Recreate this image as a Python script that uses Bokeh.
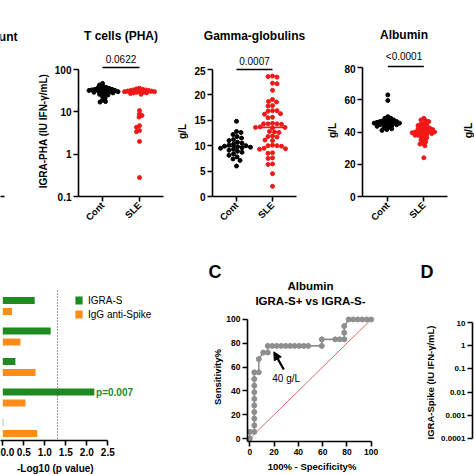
import math
import numpy as np
from bokeh.plotting import figure
from bokeh.layouts import row, column
from bokeh.models import (Range1d, FixedTicker, PrintfTickFormatter, Legend,
                          LegendItem, Arrow, NormalHead)
from bokeh.core.properties import value
from bokeh.embed import file_html
from bokeh.resources import INLINE

# ---------------- data ----------------
groups = ["Cont", "SLE"]

pha_cont = [47, 43, 40, 38, 37, 36, 35, 34, 34, 33, 33, 32, 32, 31, 31, 30, 30,
            29, 29, 28, 27, 26, 25, 23, 21, 19, 17.5, 17]
pha_sle = [36, 35, 34, 33, 33, 32, 32, 31, 31, 30, 30, 30, 29, 29, 28, 28, 27, 26,
           10.7, 9.0, 8.2, 7.5, 4.7, 4.3, 3.6, 3.4, 2.0, 0.28]
pha_p = "0.0622"
pha_ticks = [0.1, 1, 10, 100]

gam_cont = [14.8, 12.8, 12.6, 12.2, 11.8, 11.5, 11.2, 11.0, 10.7, 10.5, 10.3, 10.1,
            10.0, 9.9, 9.8, 9.7, 9.6, 9.5, 9.3, 9.1, 8.9, 8.7, 8.4, 8.1, 7.8, 7.4,
            7.1, 6.0]
gam_sle = [23.7, 23.6, 23.5, 22.3, 22.2, 20.9, 19.1, 18.7, 18.6, 17.9, 17.8, 16.9,
           16.8, 16.9, 16.3, 16.2, 15.6, 15.5, 14.4, 14.3, 14.3, 14.2, 14.3, 13.7,
           13.6, 13.6, 13.5, 12.7, 12.8, 12.6, 11.8, 11.9, 11.7, 11.0, 11.1, 10.0,
           10.1, 9.9, 10.0, 9.4, 9.3, 9.5, 8.5, 8.6, 7.6, 7.5, 6.4, 6.3, 4.5, 2.0]
gam_p = "0.0007"
gam_ticks = [0, 5, 10, 15, 20, 25]

alb_cont = [63, 59.5, 49.5, 48.5, 48.5, 47.5, 47.5, 47, 46.5, 46.5, 46.5, 46, 46,
            45.5, 45.5, 45.5, 45, 45, 44.5, 44.5, 44, 44, 43.5, 43, 42.5, 42, 41.5, 41]
alb_sle = [48.5, 47.5, 47, 46.5, 45.5, 45, 44.5, 44, 43.5, 43, 42.5, 42.5, 42, 41.5,
           41.5, 41, 40.5, 40.5, 40, 40, 40, 39.5, 39.5, 39, 39, 38.5, 38, 38, 37.5,
           37, 36.5, 35.5, 35, 34, 33, 32.5, 31.5, 24]
alb_p = "<0.0001"
alb_ticks = [0, 20, 40, 60, 80]

bar_igra_s = [0.76, 1.14, 0.30, 2.18, 0.01]
bar_igg = [0.22, 0.42, 0.78, 0.54, 0.82]
bar_series = ["IGRA-S", "IgG anti-Spike"]
bar_ticks = [0, 0.5, 1.0, 1.5, 2.0, 2.5]
p_threshold = 0.05

roc_fpr = [0, 0, 3.7, 3.7, 3.7, 3.7, 3.7, 3.7, 3.7, 3.7, 3.7, 3.7, 7.4, 7.4, 11.1,
           14.8, 14.8, 18.5, 22.2, 25.9, 29.6, 33.3, 37.0, 40.7, 44.4, 48.1, 59.3,
           59.3, 70.4, 74.1, 77.8, 77.8, 77.8, 81.5, 85.2, 88.9, 92.6, 96.3, 100]
roc_sens = [0, 5.6, 5.6, 11.1, 16.7, 22.2, 27.8, 33.3, 38.9, 44.4, 50.0, 55.6, 55.6,
            66.7, 72.2, 72.2, 77.8, 77.8, 77.8, 77.8, 77.8, 77.8, 77.8, 77.8, 77.8,
            77.8, 77.8, 83.3, 83.3, 83.3, 83.3, 88.9, 94.4, 100, 100, 100, 100, 100, 100]
roc_ticks = [0, 20, 40, 60, 80, 100]
roc_cutoff = "40 g/L"

spike_ticks = [0.0001, 0.001, 0.01, 0.1, 1, 10]

# ---------------- style ----------------
FONT = "Liberation Sans"
RED = "#f21818"
GREEN = "#1f8a22"
ORANGE = "#ff8c1a"
GRAY = "#8e8e8e"
LW = 1.6


def fs(px):
    return f"{px:.1f}px"


class Lin:
    def __init__(self, p0, v0, p1, v1):
        self.p0, self.v0 = p0, v0
        self.a = (p1 - p0) / (v1 - v0)

    def px(self, v):
        return self.p0 + self.a * (v - self.v0)

    def inv(self, p):
        return self.v0 + (p - self.p0) / self.a


class Log:
    def __init__(self, p0, v0, p1, v1):
        self.l = Lin(p0, math.log10(v0), p1, math.log10(v1))

    def px(self, v):
        return self.l.px(math.log10(v))

    def inv(self, p):
        return 10 ** self.l.inv(p)


IDENT = Lin(0, 0, 1, 1)


def make_fig(box, frame, xm=IDENT, ym=IDENT, xtype="linear", ytype="linear", axes=True):
    bx0, bx1, by0, by1 = (int(round(v)) for v in box)
    fx0, fx1, fy0, fy1 = (int(round(v)) for v in frame)
    kw = dict(width=bx1 - bx0, height=by1 - by0,
              x_range=Range1d(xm.inv(fx0), xm.inv(fx1)),
              y_range=Range1d(ym.inv(fy1), ym.inv(fy0)),
              x_axis_type=xtype, y_axis_type=ytype,
              toolbar_location=None, output_backend="svg", frame_align=False,
              min_border_left=fx0 - bx0, min_border_right=bx1 - fx1,
              min_border_top=fy0 - by0, min_border_bottom=by1 - fy1)
    if not axes:
        kw.update(x_axis_location=None, y_axis_location=None)
    p = figure(**kw)
    p.grid.visible = False
    p.outline_line_color = None
    p.background_fill_color = "white"
    p.border_fill_color = "white"
    return p


def txt(p, x, y, s, size, bold=False, align="center", color="black", angle=0.0):
    p.text(x=[x], y=[y], text=[s], text_font=value(FONT), text_font_size=fs(size),
           text_font_style="bold" if bold else "normal", text_align=align,
           text_baseline="middle", text_color=color, angle=angle)


def style_axis(ax, tick_size, label_size=10, standoff=3):
    ax.axis_line_width = LW
    ax.axis_line_color = "black"
    ax.major_tick_line_width = LW
    ax.major_tick_line_color = "black"
    ax.major_tick_out = 5
    ax.major_tick_in = 0
    ax.minor_tick_line_color = None
    ax.major_label_text_font = FONT
    ax.major_label_text_font_style = "bold"
    ax.major_label_text_font_size = fs(tick_size)
    ax.major_label_text_color = "black"
    ax.major_label_standoff = 2
    ax.axis_label_text_font = FONT
    ax.axis_label_text_font_style = "bold"
    ax.axis_label_text_font_size = fs(label_size)
    ax.axis_label_text_color = "black"
    ax.axis_label_standoff = standoff


def swarm(vals, ymap, d):
    ys = [ymap.px(v) for v in vals]
    order = sorted(range(len(vals)), key=lambda i: ys[i])
    steps = [0.0]
    for k in range(1, 120):
        steps += [k * 0.5, -k * 0.5]
    placed = []
    offs = [0.0] * len(vals)
    for n, i in enumerate(order):
        cands = steps if n % 2 == 0 else [-s for s in steps]
        for c in cands:
            if all((c - px) ** 2 + (ys[i] - py) ** 2 >= d * d for px, py in placed):
                offs[i] = c
                placed.append((c, ys[i]))
                break
    return offs


def top_panel(x0, x1, hb, axis_x, x_end, xm, ym, ytype, ticks, ylabel, title,
              title_y, pval, p_y, bar_px, cont, sle, d):
    head = make_fig((x0, x1, 0, hb), (x0, x1, 0, hb), axes=False)
    cx = (xm.px(1) + xm.px(2)) / 2
    txt(head, cx, title_y, title, 12, bold=True)
    txt(head, cx, p_y, pval, 10)

    p = make_fig((x0, x1, hb, 240), (axis_x, x1, hb, 196), xm, ym, ytype=ytype)
    yax = p.yaxis[0]
    xax = p.xaxis[0]
    style_axis(yax, 10, 10)
    style_axis(xax, 9.5)
    yax.ticker = FixedTicker(ticks=ticks)
    yax.formatter = PrintfTickFormatter(format="%g")
    yax.bounds = (p.y_range.start, ticks[-1])
    yax.axis_label = ylabel
    xax.ticker = FixedTicker(ticks=[1, 2])
    xax.major_label_overrides = {1: groups[0], 2: groups[1]}
    xax.major_label_orientation = math.pi / 4
    xax.bounds = (p.x_range.start, xm.inv(x_end))
    for gi, (vals, col) in enumerate([(cont, "black"), (sle, RED)], start=1):
        offs = swarm(vals, ym, d)
        xs = [gi + o / xm.a for o in offs]
        p.scatter(xs, vals, size=4, color=col, marker="circle")
        med = float(np.median(vals))
        p.segment(x0=[gi - 0.36], x1=[gi + 0.36], y0=[med], y1=[med],
                  line_color=col, line_width=LW)
    yb = ym.inv(bar_px)
    p.segment(x0=[1], x1=[2], y0=[yb], y1=[yb], line_color="black", line_width=LW)
    return head, p


# ---------------- top row ----------------
# partial neighbour panel at the left edge
h0 = make_fig((0, 22, 0, 65), (0, 22, 0, 65), axes=False)
txt(h0, 17, 36, "unt", 12, bold=True, align="right")
p0 = make_fig((0, 22, 65, 240), (0, 22, 65, 196))
p0.yaxis.visible = False
style_axis(p0.xaxis[0], 9.5)
p0.xaxis[0].ticker = FixedTicker(ticks=[])
p0.xaxis[0].bounds = (0, 4)

xmT = Lin(102, 1, 139, 2)
ymT = Log(196, 0.1, 69, 100)
hT, pT = top_panel(22, 172, 65, 78, 163, xmT, ymT, "log", pha_ticks,
                   "IGRA-PHA (IU IFN-γ/mL)", "T cells (PHA)", 35, pha_p, 58, 67,
                   pha_cont, pha_sle, 3.0)

xmG = Lin(236, 1, 272, 2)
ymG = Lin(196, 0, 69, 25)
hG, pG = top_panel(172, 324, 66, 212, 296, xmG, ymG, "linear", gam_ticks, "g/L",
                   "Gamma-globulins", 35, gam_p, 60, 69, gam_cont, gam_sle, 4.4)

xmA = Lin(385, 1, 422, 2)
ymA = Lin(196, 0, 67, 80)
hA, pA = top_panel(324, 474, 64, 359, 446, xmA, ymA, "linear", alb_ticks, "g/L",
                   "Albumin", 34, alb_p, 56, 66, alb_cont, alb_sle, 3.0)
txt(pA, xmA.inv(467), ymA.inv(130), "g/L", 10.5, bold=True, angle=math.pi / 2)

# ---------------- bar chart ----------------
bxm = Lin(2.3, 0, 44.3, 1)
bym = Lin(305.5, 0, 275.0, 1)
fb = make_fig((0, 200, 240, 461), (0, 200, 240, 440), bxm, bym)
fb.yaxis.visible = False
bax = fb.xaxis[0]
style_axis(bax, 10)
bax.ticker = FixedTicker(ticks=bar_ticks)
bax.formatter = PrintfTickFormatter(format="%.1f")
bax.bounds = (fb.x_range.start, bar_ticks[-1])
rows_y = [-i for i in range(len(bar_igra_s))]
rg = fb.hbar(y=[r + 0.18 for r in rows_y], left=0, right=bar_igra_s, height=0.23,
             fill_color=GREEN, line_color=None)
ro = fb.hbar(y=[r - 0.18 for r in rows_y], left=0, right=bar_igg, height=0.23,
             fill_color=ORANGE, line_color=None)
thr = -math.log10(p_threshold)
fb.segment(x0=[thr], x1=[thr], y0=[bym.inv(290)], y1=[fb.y_range.start],
           line_dash="1 2", line_color="#333333", line_width=1)
imax = int(np.argmax(bar_igra_s))
txt(fb, bar_igra_s[imax] + 0.04, rows_y[imax] + 0.18,
    f"p={10 ** -bar_igra_s[imax]:.3f}", 10, bold=True, align="left", color=GREEN)

item_h = 14
vy = 440 - (293 + 2 * item_h)
vx = 74
leg = Legend(items=[LegendItem(label=bar_series[0], renderers=[rg]),
                    LegendItem(label=bar_series[1], renderers=[ro])],
             location=(vx, vy), orientation="vertical", glyph_width=9, glyph_height=10,
             label_height=item_h, label_standoff=5, spacing=0, padding=0, margin=0,
             label_text_font=FONT, label_text_font_size=fs(10), label_text_color="black",
             border_line_color=None, background_fill_alpha=0)
fb.add_layout(leg)

fbf = make_fig((0, 200, 461, 474), (0, 200, 461, 474), axes=False)
txt(fbf, (bxm.px(0) + bxm.px(bar_ticks[-1])) / 2, 467.5, "-Log10 (p value)", 10, bold=True)

# ---------------- ROC ----------------
cxm = Lin(249.3, 0, 370.7, 100)
cym = Lin(439, 0, 319, 100)
hc = make_fig((200, 395, 240, 312), (200, 395, 240, 312), axes=False)
txt(hc, 208, 271, "C", 18, bold=True, align="left")
tcx = (cxm.px(0) + cxm.px(100)) / 2
txt(hc, tcx, 285, "Albumin", 11.5, bold=True)
txt(hc, tcx, 300, "IGRA-S+ vs IGRA-S-", 11.5, bold=True)

fc = make_fig((200, 395, 312, 474), (247, 376, 312, 442), cxm, cym)
for ax, lab in ((fc.xaxis[0], "100% - Specificity%"), (fc.yaxis[0], "Sensitivity%")):
    style_axis(ax, 8.5, 9.5, standoff=3)
    ax.ticker = FixedTicker(ticks=roc_ticks)
    ax.axis_label = lab
fc.yaxis[0].axis_label_standoff = 0
fc.xaxis[0].bounds = (fc.x_range.start, roc_ticks[-1])
fc.yaxis[0].bounds = (fc.y_range.start, roc_ticks[-1])
fc.line([roc_ticks[0], roc_ticks[-1]], [roc_ticks[0], roc_ticks[-1]],
        line_color="#e06868", line_width=1)
fc.line(roc_fpr, roc_sens, line_color=GRAY, line_width=1.6)
fc.scatter(roc_fpr, roc_sens, size=5, color=GRAY, marker="circle")
fc.add_layout(Arrow(end=NormalHead(size=8, fill_color="black", line_color="black"),
                    x_start=28, y_start=58, x_end=19.8, y_end=72.8,
                    line_color="black", line_width=2.2))
txt(fc, 18.5, 50.8, roc_cutoff, 10, align="left")

# ---------------- panel D ----------------
dym = Log(438, 1e-4, 322, 10)
hd = make_fig((395, 474, 240, 320), (395, 474, 240, 320), axes=False)
txt(hd, 420, 271, "D", 18, bold=True, align="left")
fd = make_fig((395, 474, 320, 474), (472, 474, 320, 444), IDENT, dym, ytype="log")
fd.xaxis.visible = False
dax = fd.yaxis[0]
style_axis(dax, 8, 9.5, standoff=2)
dax.ticker = FixedTicker(ticks=spike_ticks)
dax.formatter = PrintfTickFormatter(format="%g")
dax.bounds = (spike_ticks[0], spike_ticks[-1])
dax.axis_label = "IGRA-Spike (IU IFN-γ/mL)"

top = row(column(h0, p0), column(hT, pT), column(hG, pG), column(hA, pA))
bottom = row(column(fb, fbf), column(hc, fc), column(hd, fd))
layout = column(top, bottom)

with open("out.html", "w", encoding="utf-8") as f:
    f.write(file_html(layout, INLINE, title="chart"))
